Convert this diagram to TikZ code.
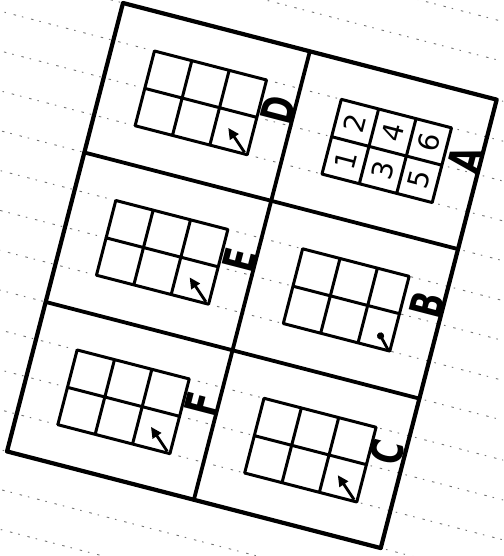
\documentclass[tikz,border=0pt]{standalone}
\usepackage{fontspec}
\newfontfamily\labfont{DejaVu Sans}
\usetikzlibrary{arrows.meta}
\begin{document}
\begin{tikzpicture}[x=1pt,y=-1pt,
  ruled/.style={black!55,line width=0.9pt,dash pattern=on 2.5pt off 6pt on 1.5pt off 8pt},
  frame/.style={line width=4.2pt,line join=round,line cap=round},
  divider/.style={line width=3.8pt,line cap=round},
  gridline/.style={line width=3pt,line join=round,line cap=round},
  lab/.style={rotate=75.5,inner sep=0pt,font=\fontsize{44}{44}\selectfont\labfont\bfseries},
  num/.style={rotate=75.5,inner sep=0pt,font=\fontsize{28}{28}\selectfont\labfont},
  cellarrow/.style={line width=2.8pt,-{Triangle[length=11pt,width=10pt]}},
  dotline/.style={line width=2.8pt}]
\useasboundingbox (0,0) rectangle (503,556);
\clip (0,0) rectangle (503,556);
\fill[white] (0,0) rectangle (503,556);
\begin{scope}[shift={(123pt,-3pt)},rotate=-14.5,x=38.6pt,y=-38.6pt]
  % ruled paper lines
  \foreach \k in {-3,...,15}{
    \draw[ruled] (-5,\k) -- (15,\k);
  }
  % outer frame and dividers
  \draw[frame] (0,0) -- (10,0) -- (10,12) -- (0,12) -- cycle;
  \draw[divider] (5,0) -- (5,12);
  \draw[divider] (0,4) -- (10,4);
  \draw[divider] (0,8) -- (10,8);
  % grids
  \foreach \pu/\pv/\r in {0/0/4.1,5/0/4.05,0/4/4.1,5/4/3.95,0/8/4.1,5/8/4.1}{
    \draw[gridline] (\pu+1.1,\pv+1) -- (\pu+\r,\pv+1) -- (\pu+\r,\pv+3) -- (\pu+1.1,\pv+3) -- cycle
      (\pu+1.1,\pv+2) -- (\pu+\r,\pv+2)
      (\pu+2.1,\pv+1) -- (\pu+2.1,\pv+3)
      (\pu+3.1,\pv+1) -- (\pu+3.1,\pv+3);
  }
  % labels
  \node[lab] (D) at (4.58,1.68) {\scalebox{0.72}[1]{D}};
  \node[lab] (A) at (9.6,1.7) {\scalebox{0.72}[1]{A}};
  \node[lab] (E) at (4.6,5.68) {\scalebox{0.72}[1]{E}};
  \node[lab] (B) at (9.58,5.6) {\scalebox{0.72}[1]{B}};
  \node[lab] (F) at (4.58,9.55) {\scalebox{0.72}[1]{F}};
  \node[lab] (C) at (9.54,9.55) {\scalebox{0.72}[1]{C}};
  % numbers in panel A
  \node[num] (n2) at (6.6,1.5) {2};
  \node[num] (n4) at (7.6,1.5) {4};
  \node[num] (n6) at (8.57,1.5) {6};
  \node[num] (n1) at (6.6,2.5) {1};
  \node[num] (n3) at (7.6,2.5) {3};
  \node[num] (n5) at (8.57,2.5) {5};
  % arrows in bottom-right cells
  \foreach \nm/\pu/\pv in {d/0/0,e/0/4,f/0/8,c/5/8}{
    \coordinate (\nm t) at (\pu+4.02,\pv+2.96);
    \coordinate (\nm h) at (\pu+3.45,\pv+2.45);
    \draw[cellarrow] (\nm t) -- (\nm h);
  }
  \coordinate (bt) at (8.9,6.98);
  \coordinate (bh) at (8.62,6.68);
  \draw[dotline] (bt) -- (bh);
  \fill (bh) circle (3.6pt);
\end{scope}
\end{tikzpicture}
\end{document}
